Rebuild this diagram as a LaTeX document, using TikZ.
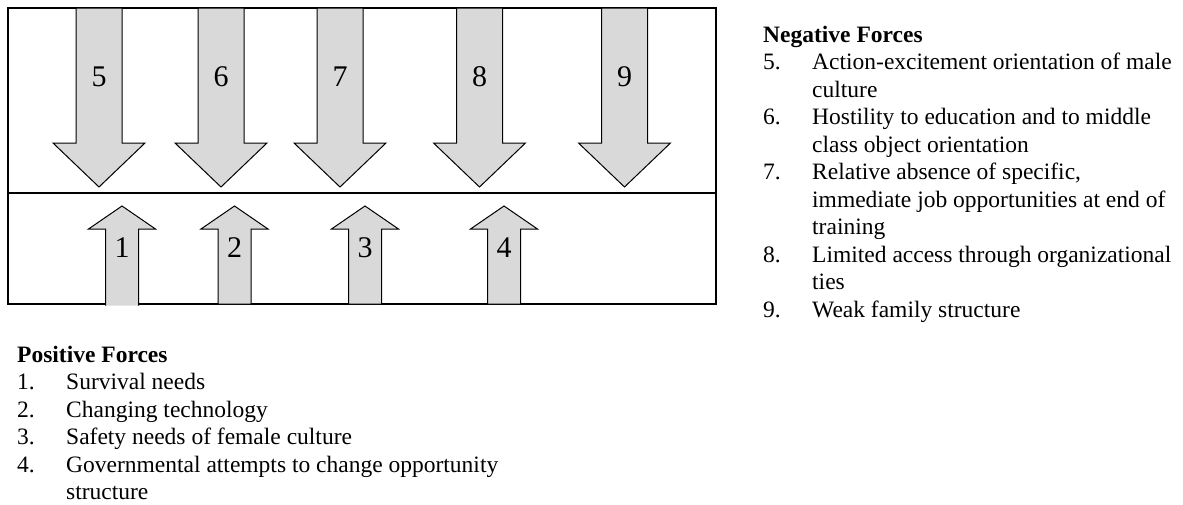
\documentclass[tikz,border=0pt]{standalone}
\usepackage{fontspec}
\setmainfont{Liberation Serif}

\begin{document}
\begin{tikzpicture}
[x=1pt, y=-1pt,
frame/.style ={draw=black, line width=1.5pt},
force/.style ={draw=black, line width=1pt, fill=black!15, line join=miter},
num/.style ={font=\fontsize{30}{30}\selectfont, inner sep=0pt},
head/.style ={font=\bfseries\fontsize{23.5}{27.5}\selectfont, anchor=base west, inner sep=0pt},
item/.style ={font=\fontsize{23.5}{27.5}\selectfont, anchor=base west, align=left, inner sep=0pt}]
\useasboundingbox (0,0) rectangle (1183,504);
\draw[frame] (8,8) rectangle (716,304);
\draw[frame] (8,193) -- (716,193);
\draw[force] (76,8) -- (76,143) -- (53,143) -- (99,187) -- (145,143) -- (122,143) -- (122,8) -- cycle;
\draw[force] (198,8) -- (198,143) -- (175,143) -- (221,187) -- (267,143) -- (244,143) -- (244,8) -- cycle;
\draw[force] (317,8) -- (317,143) -- (294,143) -- (340,187) -- (386,143) -- (363,143) -- (363,8) -- cycle;
\draw[force] (456.5,8) -- (456.5,143) -- (433.5,143) -- (479.5,187) -- (525.5,143) -- (502.5,143) -- (502.5,8) -- cycle;
\draw[force] (601.5,8) -- (601.5,143) -- (578.5,143) -- (624.5,187) -- (670.5,143) -- (647.5,143) -- (647.5,8) -- cycle;
\draw[force] (105.5,305.5) -- (105.5,229) -- (88.5,229) -- (122,206) -- (155.5,229) -- (138.5,229) -- (138.5,305.5);
\draw[force] (218,304) -- (218,229) -- (201,229) -- (234.5,206) -- (268,229) -- (251,229) -- (251,304) -- cycle;
\draw[force] (348.5,304) -- (348.5,229) -- (331.5,229) -- (365,206) -- (398.5,229) -- (381.5,229) -- (381.5,304) -- cycle;
\draw[force] (487.5,304) -- (487.5,229) -- (470.5,229) -- (504,206) -- (537.5,229) -- (520.5,229) -- (520.5,304) -- cycle;
\draw (99,77) node[num] (a5) {5};
\draw (221,77) node[num] (a6) {6};
\draw (340,77) node[num] (a7) {7};
\draw (479.5,77) node[num] (a8) {8};
\draw (624.5,77) node[num] (a9) {9};
\draw (122,248) node[num] (a1) {1};
\draw (234.5,248) node[num] (a2) {2};
\draw (365,248) node[num] (a3) {3};
\draw (504,248) node[num] (a4) {4};
% multi-line items sit on the baseline of their last line
\draw (763,42) node[head] (neg) {Negative Forces};
\draw (763,69.5) node[item] (k5) {5.};
\draw (812,97) node[item] (t5) {Action-excitement orientation of male\\culture};
\draw (763,124.5) node[item] (k6) {6.};
\draw (812,152) node[item] (t6) {Hostility to education and to middle\\class object orientation};
\draw (763,179.5) node[item] (k7) {7.};
\draw (812,234.5) node[item] (t7) {Relative absence of specific,\\immediate job opportunities at end of\\training};
\draw (763,262) node[item] (k8) {8.};
\draw (812,289.5) node[item] (t8) {Limited access through organizational\\ties};
\draw (763,317) node[item] (k9) {9.};
\draw (812,317) node[item] (t9) {Weak family structure};
\draw (17,362) node[head] (pos) {Positive Forces};
\draw (17,389.5) node[item] (k1) {1.};
\draw (66,389.5) node[item] (t1) {Survival needs};
\draw (17,417) node[item] (k2) {2.};
\draw (66,417) node[item] (t2) {Changing technology};
\draw (17,444.5) node[item] (k3) {3.};
\draw (66,444.5) node[item] (t3) {Safety needs of female culture};
\draw (17,472) node[item] (k4) {4.};
\draw (66,499.5) node[item] (t4) {Governmental attempts to change opportunity\\structure};
\end{tikzpicture}
\end{document}
